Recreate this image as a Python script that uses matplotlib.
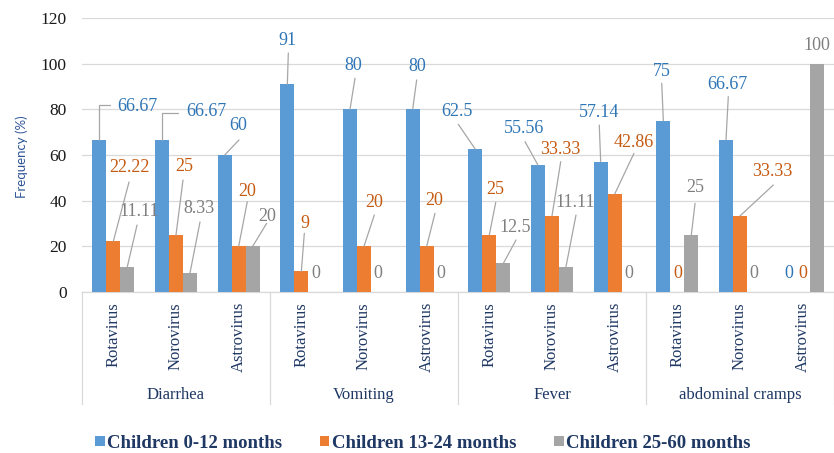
import matplotlib
matplotlib.use("Agg")
import matplotlib.pyplot as plt
from matplotlib.patches import Patch
import numpy as np

# ---------------- data ----------------
symptoms = ["Diarrhea", "Vomiting", "Fever", "abdominal cramps"]
viruses = ["Rotavirus", "Norovirus", "Astrovirus"]
series_names = ["Children 0-12 months", "Children 13-24 months", "Children 25-60 months"]
age_0_12 = [66.67, 66.67, 60, 91, 80, 80, 62.5, 55.56, 57.14, 75, 66.67, 0]
age_13_24 = [22.22, 25, 20, 9, 20, 20, 25, 33.33, 42.86, 0, 33.33, 0]
age_25_60 = [11.11, 8.33, 20, 0, 0, 0, 12.5, 11.11, 0, 25, 0, 100]
y_ticks = [0, 20, 40, 60, 80, 100, 120]

# ---------------- style ----------------
bar_colors = ["#5B9BD5", "#ED7D31", "#A5A5A5"]
label_colors = ["#2E75B6", "#C55A11", "#7F7F7F"]
navy = "#1F3864"
grid_c = "#D9D9D9"
leader_c = "#A6A6A6"

# label placement (pixel offsets from bar top): (dx, dy, leader_end_x, leader_end_y, elbow)
Z = (0, 19, None, None, False)
label_offsets = [
    [(37.7, 32.8, 10.7, 34.8, True), (44, 27.8, 16, 26.8, True), (13.3, 30, 14.3, 15, False),
     (0, 44.2, 1, 31.2, False), (3, 43.4, 5, 31.1, False), (4.3, 42.4, 4, 29.4, False),
     (-18.3, 37.3, -17, 25, False), (-13.5, 36.2, -13, 23.5, False), (-1.7, 48.8, -1.4, 36.5, False),
     (-1.3, 48.8, -1.6, 37.5, False), (1.5, 55.5, 2.3, 43.1, False), Z],
    [(15.7, 73.3, 15.7, 59.3, False), (8, 68.9, 7, 54.9, False), (8.3, 55.3, 8.6, 44.6, False),
     (3.7, 47.5, 3, 38.2, False), (10, 44.3, 10.3, 31.3, False), (7.3, 46.3, 8.3, 33, False),
     (5.7, 45.9, 6.4, 32.6, False), (8, 65.9, 8.7, 54.2, False), (18.6, 51.4, 19.3, 40.8, False),
     Z, (32.8, 44.2, 33.3, 30.9, False), Z],
    [(11.7, 55.6, 9.7, 41.6, False), (9, 64, 10, 51, False), (14.3, 30.3, 14, 23, False),
     Z, Z, Z,
     (11.7, 35.5, 12.7, 23.5, False), (9, 63.9, 10, 51.6, False), Z,
     (3.7, 47.2, 3.7, 31.6, False), Z, (0, 18, None, None, False)],
]

W, H = 834, 453
fig = plt.figure(figsize=(W / 100, H / 100), dpi=100)
ax = fig.add_axes([82 / W, 161 / H, 752 / W, 274 / H])

n = len(symptoms) * len(viruses)
x = np.arange(n)
bw = 14 / 62.67
all_series = [age_0_12, age_13_24, age_25_60]

for j, vals in enumerate(all_series):
    xs = x + (j - 1) * bw
    ax.bar(xs, vals, width=bw, color=bar_colors[j], zorder=3, linewidth=0)
    for i, v in enumerate(vals):
        dx, dy, ex, ey, elbow = label_offsets[j][i]
        ax.annotate(f"{v:g}", xy=(xs[i], v), xytext=(dx, dy), textcoords="offset pixels",
                    ha="center", va="center", fontsize=13, family="Liberation Serif",
                    color=label_colors[j], zorder=5, annotation_clip=False)
        if ex is not None:
            cs = "angle,angleA=0,angleB=90,rad=0" if elbow else "arc3"
            ax.annotate("", xy=(xs[i], v), xytext=(ex, ey), textcoords="offset pixels",
                        arrowprops=dict(arrowstyle="-", color=leader_c, lw=0.9,
                                        shrinkA=0, shrinkB=0, connectionstyle=cs),
                        zorder=4, annotation_clip=False)

ax.set_xlim(-0.5, n - 0.5)
ax.set_ylim(0, 120)
ax.set_yticks(y_ticks)
ax.set_yticklabels([str(t) for t in y_ticks], family="Liberation Serif", fontsize=12.5, color="#1A1A1A")
ax.tick_params(axis="y", length=0, pad=11)
ax.set_xticks([])
ax.yaxis.grid(True, color=grid_c, lw=0.9, zorder=0)
for s in ["left", "right", "top"]:
    ax.spines[s].set_visible(False)
ax.spines["bottom"].set_color(grid_c)
ax.spines["bottom"].set_linewidth(0.9)

trans = ax.get_xaxis_transform()
# category labels
for i in range(n):
    ax.text(x[i], -10 / 274, viruses[i % 3], rotation=90, ha="center", va="top",
            transform=trans, family="Liberation Serif", fontsize=12, color=navy, clip_on=False)
# group separators and labels
for g in range(len(symptoms) + 1):
    xb = g * 3 - 0.5
    ax.plot([xb, xb], [0, -112 / 274], transform=trans, color=grid_c, lw=0.9, clip_on=False)
for g, name in enumerate(symptoms):
    ax.text(g * 3 + 1, -103 / 274, name, ha="center", va="center", transform=trans,
            family="Liberation Serif", fontsize=12, color=navy, clip_on=False)

fig.text(22 / W, 1 - 157 / H, "Frequency (%)", rotation=90, ha="center", va="center",
         family="Lato", fontsize=9.5, color="#2F5597")

handles = [Patch(facecolor=c, edgecolor="none") for c in bar_colors]
leg = fig.legend(handles, series_names, loc="center", bbox_to_anchor=(423 / W, 1 - 443 / H),
                 ncol=3, frameon=False, handlelength=0.5, handleheight=0.5, handletextpad=0.15,
                 columnspacing=2.0, prop={"family": "Liberation Serif", "weight": "bold", "size": 13.5})
for t in leg.get_texts():
    t.set_color(navy)

fig.savefig("out.png", dpi=100)
